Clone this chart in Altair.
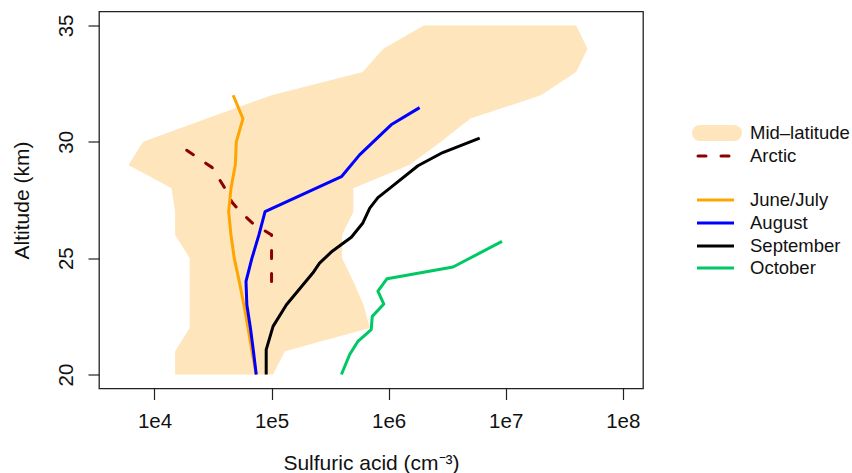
import altair as alt
import pandas as pd

# ---- Mid-latitude envelope (range of observed profiles), per km ----
env_alt = [20, 21, 22, 23, 24, 25, 26, 27, 28, 29, 30, 31, 32, 33, 34, 35]
env_low = [1.5e4, 1.5e4, 2.0e4, 2.0e4, 2.0e4, 2.0e4, 1.5e4, 1.5e4, 1.4e4, 6.0e3,
           8.0e3, 2.8e4, 1.0e5, 6.0e5, 9.0e5, 2.0e6]
env_high = [1.03e5, 1.3e5, 6.9e5, 6.1e5, 5.0e5, 4.0e5, 4.0e5, 5.0e5, 5.0e5, 1.5e6,
            2.8e6, 5.0e6, 2.0e7, 4.0e7, 5.0e7, 4.0e7]

# ---- Arctic profile ----
arc_alt = [24.0, 26.0, 26.5, 27.0, 27.4, 28.0, 28.9, 29.73]
arc_val = [1.0e5, 1.0e5, 6.9e4, 5.4e4, 4.6e4, 4.0e4, 3.1e4, 1.77e4]

# ---- Monthly profiles ----
jj_alt = [20, 21, 22, 23, 24, 25, 26, 27, 28, 29, 30, 31, 32]
jj_val = [7.4e4, 6.8e4, 6.3e4, 5.8e4, 5.3e4, 4.8e4, 4.5e4, 4.3e4, 4.5e4, 4.9e4,
          5.0e4, 5.7e4, 4.7e4]

aug_alt = [20, 21, 22, 23, 24, 25, 26, 27.0, 28.5, 29.44, 30.73, 31.47]
aug_val = [7.4e4, 7.0e4, 6.6e4, 6.15e4, 6.05e4, 6.8e4, 7.8e4, 8.8e4, 3.95e5,
           5.65e5, 1.05e6, 1.84e6]

sep_alt = [20.0, 21.07, 22.07, 23.0, 24.36, 24.79, 25.3, 25.9, 26.5, 27.15, 27.6,
           28.0, 28.97, 29.54, 30.16]
sep_val = [9.0e4, 9.0e4, 1.03e5, 1.34e5, 2.25e5, 2.57e5, 3.3e5, 4.8e5, 6.0e5,
           6.9e5, 8.1e5, 1.02e6, 1.78e6, 2.9e6, 6.0e6]

oct_alt = [20.0, 20.86, 21.43, 21.93, 22.5, 23.03, 23.58, 24.12, 24.62, 25.72]
oct_val = [3.95e5, 4.65e5, 5.47e5, 7.1e5, 7.25e5, 9.1e5, 8.1e5, 9.7e5, 3.55e6, 9.3e6]

months = ["June/July", "August", "September", "October"]
month_colors = ["#FFA500", "#0000FF", "#000000", "#00C864"]
arctic_color = "#8B0000"
envelope_color = "#FEE5BC"

x_ticks = [1e4, 1e5, 1e6, 1e7, 1e8]
y_ticks = [20, 25, 30, 35]

FONT = "Liberation Sans"
W, H = 544, 377

env_df = pd.DataFrame({"alt": env_alt, "low": env_low, "high": env_high})
arc_df = pd.DataFrame({"alt": arc_alt, "val": arc_val, "i": range(len(arc_alt))})

rows = []
for name, a_list, v_list in zip(months, [jj_alt, aug_alt, sep_alt, oct_alt],
                                [jj_val, aug_val, sep_val, oct_val]):
    for i, (a, v) in enumerate(zip(a_list, v_list)):
        rows.append({"series": name, "alt": a, "val": v, "i": i})
month_df = pd.DataFrame(rows)

x_scale = alt.Scale(type="log", domain=[10 ** 3.526, 10 ** 8.173], nice=False)
y_scale = alt.Scale(domain=[19.4, 35.6], nice=False, zero=False)

x_axis = alt.Axis(
    values=x_ticks, labelExpr="'1e' + round(log(datum.value) / LN10)",
    title="Sulfuric acid (cm⁻³)", domain=False, grid=False,
    tickSize=11, tickWidth=1.2, tickColor="#222",
    labelFont=FONT, labelFontSize=20.5, labelColor="#111", labelPadding=12,
    labelFlush=False, labelOverlap=False,
    titleFont=FONT, titleFontSize=21, titleFontWeight="normal", titleColor="#111",
    titleX=W / 2, titleY=75, titleBaseline="middle", titleAlign="center",
)
y_axis = alt.Axis(
    values=y_ticks, title="Altitude (km)", domain=False, grid=False,
    tickSize=11, tickWidth=1.2, tickColor="#222",
    labelFont=FONT, labelFontSize=20.5, labelColor="#111", labelPadding=16,
    labelAngle=270, labelAlign="center", labelBaseline="alphabetic",
    labelFlush=False, labelOverlap=False,
    titleFont=FONT, titleFontSize=21, titleFontWeight="normal", titleColor="#111",
    titleAngle=270, titleX=-77, titleY=H / 2, titleAlign="center",
    titleBaseline="middle",
)

envelope = alt.Chart(env_df).mark_area(
    orient="horizontal", color=envelope_color, opacity=1
).encode(
    y=alt.Y("alt:Q", scale=y_scale, axis=y_axis),
    x=alt.X("low:Q", scale=x_scale, axis=x_axis),
    x2="high:Q",
)

arctic = alt.Chart(arc_df).mark_line(
    color=arctic_color, strokeWidth=3, strokeDash=[8, 15], strokeCap="round"
).encode(
    x=alt.X("val:Q", scale=x_scale),
    y=alt.Y("alt:Q", scale=y_scale),
    order="i:Q",
)

monthly = alt.Chart(month_df).mark_line(strokeWidth=3, strokeJoin="round").encode(
    x=alt.X("val:Q", scale=x_scale),
    y=alt.Y("alt:Q", scale=y_scale),
    color=alt.Color("series:N", scale=alt.Scale(domain=months, range=month_colors),
                    legend=None),
    detail="series:N",
    order="i:Q",
)

# ---- hand-built legend to the right of the plot ----
LX0, LX1, TX = 598, 635, 651
legend_layers = []
anchor = pd.DataFrame({"k": [0]})

swatch_y = 121.5
legend_layers.append(
    alt.Chart(anchor).mark_rule(color=envelope_color, strokeWidth=16, strokeCap="round")
    .encode(x=alt.value(601), x2=alt.value(635), y=alt.value(swatch_y))
)
legend_layers.append(
    alt.Chart(anchor).mark_rule(color=arctic_color, strokeWidth=3,
                                strokeDash=[8, 15], strokeCap="round")
    .encode(x=alt.value(LX0 + 1), x2=alt.value(LX1), y=alt.value(144.5))
)
line_rows = [188.5, 211.5, 234.5, 256.5]
for name, col, yy in zip(months, month_colors, line_rows):
    legend_layers.append(
        alt.Chart(anchor).mark_rule(color=col, strokeWidth=3)
        .encode(x=alt.value(LX0), x2=alt.value(LX1), y=alt.value(yy))
    )
labels = ["Mid–latitude", "Arctic"] + months
label_y = [swatch_y, 144.5] + line_rows
for txt, yy in zip(labels, label_y):
    legend_layers.append(
        alt.Chart(anchor).mark_text(text=txt, font=FONT, fontSize=18.5, align="left",
                                    baseline="middle", color="#111")
        .encode(x=alt.value(TX), y=alt.value(yy))
    )

chart = alt.layer(envelope, arctic, monthly, *legend_layers).properties(
    width=W, height=H,
    autosize=alt.AutoSizeParams(type="none"),
    padding={"left": 99, "top": 11.5, "right": 852 - 99 - W, "bottom": 473 - 11.5 - H},
    background="white",
).configure_view(stroke="#222", strokeWidth=1.3)

chart.save("out.html", embed_options={"renderer": "svg", "actions": False})
